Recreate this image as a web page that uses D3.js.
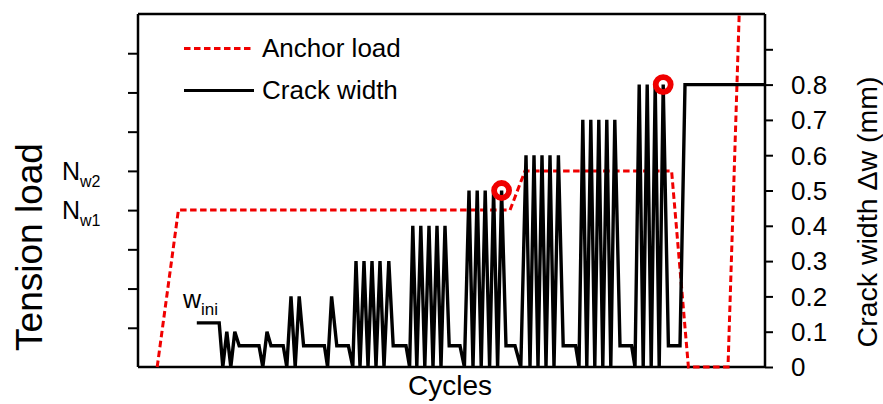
<!DOCTYPE html>
<html><head><meta charset="utf-8">
<script src="https://cdn.jsdelivr.net/npm/d3@7"></script>
<style>
body{margin:0;background:#fff;}
text{font-family:"Liberation Sans",Arial,sans-serif;fill:#000;}
</style></head>
<body><svg id="c" width="883" height="404"></svg>
<script>
// x: cycle/time steps (schematic), crack width in mm
const crackX = [14.7,20.3,21.2,22.2,23.2,24.2,25.3,30.25,31.2,32.25,33.25,36.3,37.2,38.25,39.3,40.3,41.4,46.6,47.4,48.4,49.7,52.6,
  53.7,54.5,55.5,56.5,57.5,58.5,59.5,60.5,61.5,62.7,63.8,67,
  67.9,68.7,69.7,70.7,71.7,72.75,73.75,74.75,75.75,76.75,77.8,80.5,
  81.6,82.75,83.75,84.8,85.8,86.8,87.9,88.9,89.9,90.9,92,94.25,
  95.7,97,98,99,100,101,102,103,104,105.1,106.3,109.4,
  110.25,111.2,112.2,113.2,114.2,115.2,116.2,117.2,118.2,119.2,120.5,123.4,
  124.25,125.3,126.3,127.3,128.3,129.3,130.3,131.3,132.6,135.5,136.75,156.75];
const crackW = [0.125,0.125,0,0.1,0,0.1,0.06,0.06,0,0.1,0.06,0.06,0,0.2,0,0.2,0.06,0.06,0,0.2,0.06,0.06,
  0,0.3,0,0.3,0,0.3,0,0.3,0,0.3,0.06,0.06,
  0,0.4,0,0.4,0,0.4,0,0.4,0,0.4,0.06,0.06,
  0,0.5,0,0.5,0,0.5,0,0.5,0,0.5,0.06,0.06,
  0,0.6,0,0.6,0,0.6,0,0.6,0,0.6,0.06,0.06,
  0,0.7,0,0.7,0,0.7,0,0.7,0,0.7,0.06,0.06,
  0,0.8,0,0.8,0,0.8,0,0.8,0.06,0.06,0.8,0.8];
const loadX = [4.8,10.1,93,96.75,133.4,137.6,147.5,150.3];
const loadN = [0,4,4,5,5,0,0,9];
const markX = [90.9,131.3];
const markW = [0.5,0.8];
const rightTicks = [0,0.1,0.2,0.3,0.4,0.5,0.6,0.7,0.8,0.9];
const rightLabels = ["0","0.1","0.2","0.3","0.4","0.5","0.6","0.7","0.8"];
const leftTicks = [1,2,3,4,5,6,7,8];
const leftLabels = [{v:5,main:"N",sub:"w2"},{v:4,main:"N",sub:"w1"}];

const svg = d3.select("#c");
const L=138,R=765,T=14,B=367;
const x = d3.scaleLinear().domain([0,156.75]).range([L,R]);
const yW = d3.scaleLinear().domain([0,1]).range([B,T]);
const yN = d3.scaleLinear().domain([0,9]).range([B,T]);
const red = "#f00000";

// frame
svg.append("line").attr("x1",L).attr("x2",R).attr("y1",T).attr("y2",T).attr("stroke","#000").attr("stroke-width",2.5);
svg.append("line").attr("x1",L).attr("x2",R).attr("y1",B).attr("y2",B).attr("stroke","#000").attr("stroke-width",2.5);

// left axis
const la = d3.axisLeft(yN).tickValues(leftTicks).tickSize(10).tickFormat("");
const lg = svg.append("g").attr("transform",`translate(${L},0)`).call(la);
lg.select(".domain").attr("stroke-width",2.5).attr("d",`M0,${T}V${B}`);
lg.selectAll(".tick line").attr("stroke-width",2);

// right axis
const ra = d3.axisRight(yW).tickValues(rightTicks).tickSize(8).tickFormat("");
const rg = svg.append("g").attr("transform",`translate(${R},0)`).call(ra);
rg.select(".domain").attr("stroke-width",2.5).attr("d",`M0,${T}V${B}`);
rg.selectAll(".tick line").attr("stroke-width",2);

svg.append("g").selectAll("text").data(rightLabels).join("text")
  .attr("x",791).attr("y",(d)=>yW(+d)).attr("dy","0.36em")
  .attr("font-size",26).text(d=>d);

// left labels N
leftLabels.forEach(d=>{
  const t = svg.append("text").attr("x",62).attr("y",yN(d.v)+9).attr("font-size",25);
  t.append("tspan").text(d.main);
  t.append("tspan").attr("font-size",16).attr("dy",7).text(d.sub);
});

// anchor load
svg.append("path").datum(loadX.map((v,i)=>[v,loadN[i]]))
  .attr("d",d3.line().x(d=>x(d[0])).y(d=>yN(d[1])))
  .attr("fill","none").attr("stroke",red).attr("stroke-width",3).attr("stroke-dasharray","6.5,3.5");

// crack width
svg.append("path").datum(crackX.map((v,i)=>[v,crackW[i]]))
  .attr("d",d3.line().x(d=>x(d[0])).y(d=>yW(d[1])))
  .attr("fill","none").attr("stroke","#000").attr("stroke-width",3.4).attr("stroke-linejoin","miter").attr("stroke-miterlimit",2);

// markers
svg.append("g").selectAll("circle").data(markX.map((v,i)=>[v,markW[i]])).join("circle")
  .attr("cx",d=>x(d[0])).attr("cy",d=>yW(d[1])).attr("r",7.5)
  .attr("fill","none").attr("stroke",red).attr("stroke-width",5.8);

// w_ini label
const wi = svg.append("text").attr("x",183).attr("y",308).attr("font-size",25);
wi.append("tspan").text("w");
wi.append("tspan").attr("font-size",17).attr("dy",7).text("ini");

// legend
svg.append("line").attr("x1",184).attr("x2",254).attr("y1",48.5).attr("y2",48.5)
  .attr("stroke",red).attr("stroke-width",3).attr("stroke-dasharray","6.5,3.5");
svg.append("text").attr("x",262).attr("y",56.5).attr("font-size",26).text("Anchor load");
svg.append("line").attr("x1",184).attr("x2",254).attr("y1",90.5).attr("y2",90.5)
  .attr("stroke","#000").attr("stroke-width",3);
svg.append("text").attr("x",262).attr("y",98.5).attr("font-size",26).text("Crack width");

// axis titles
svg.append("text").attr("x",450).attr("y",395).attr("text-anchor","middle").attr("font-size",28).text("Cycles");
svg.append("text").attr("transform","translate(42,247) rotate(-90)").attr("text-anchor","middle").attr("font-size",37).text("Tension load");
svg.append("text").attr("transform","translate(877,212) rotate(-90)").attr("text-anchor","middle").attr("font-size",28.5).text("Crack width \u0394w (mm)");
</script></body></html>
